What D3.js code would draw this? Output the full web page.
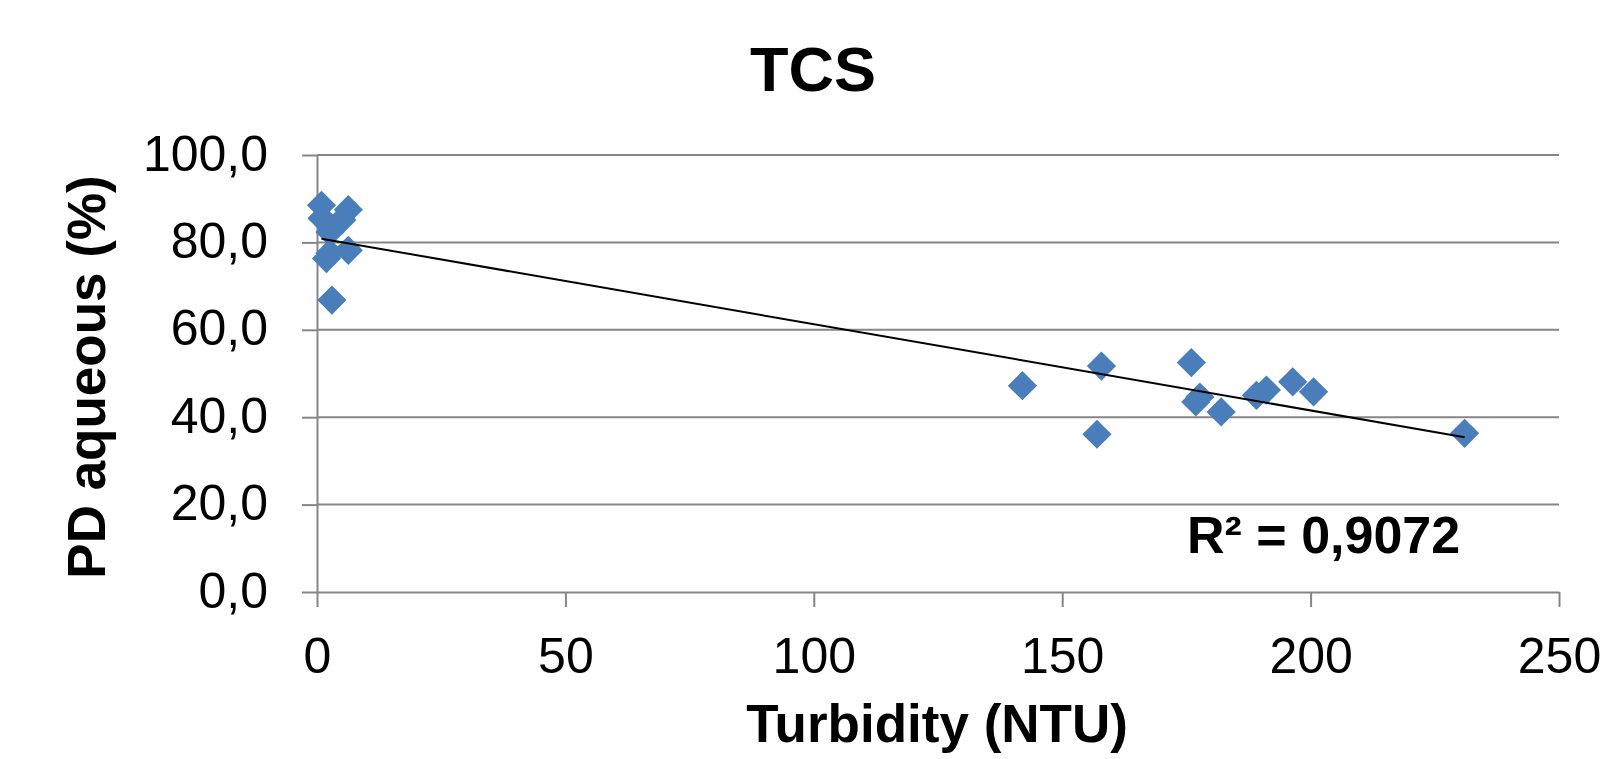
<!DOCTYPE html>
<html>
<head>
<meta charset="utf-8">
<script src="https://cdn.jsdelivr.net/npm/d3@7"></script>
<style>
  body { margin: 0; background: #fff; }
  svg { display: block; font-family: "Liberation Sans", Arial, sans-serif; }
</style>
</head>
<body>
<div id="app"></div>
<script>
// data
const turbidity = [0.9, 6.3, 1.0, 5.0, 2.6, 6.3, 2.6, 1.9, 3.0,
  142.0, 157.9, 157.0, 176.0, 177.7, 176.9, 182.0, 189.1, 191.1, 196.4, 200.6, 231.0];
const pdAqueous = [88.5, 87.5, 85.5, 85.1, 82.4, 78.2, 77.5, 76.3, 66.8,
  47.2, 51.7, 36.1, 52.5, 44.6, 43.5, 41.2, 45.0, 46.2, 48.1, 45.8, 36.3];
const xTicks = [0, 50, 100, 150, 200, 250];
const yTicks = [0, 20, 40, 60, 80, 100];
const rSquaredLabel = 'R² = 0,9072';

const width = 1601, height = 759;
const margin = { left: 317, right: 42, top: 155, bottom: 167 };

const svg = d3.select('#app').append('svg')
  .attr('width', width)
  .attr('height', height);

const x = d3.scaleLinear().domain([0, 250]).range([margin.left, width - margin.right]);
const y = d3.scaleLinear().domain([0, 100]).range([height - margin.bottom, margin.top]);

const gridColor = '#868686';
const fmt = d => d3.format('.1f')(d).replace('.', ',');

// horizontal gridlines
svg.append('g')
  .selectAll('line')
  .data(yTicks.filter(d => d > 0))
  .join('line')
  .attr('x1', x(0)).attr('x2', x(250))
  .attr('y1', d => y(d)).attr('y2', d => y(d))
  .attr('stroke', gridColor)
  .attr('stroke-width', 2);

// y axis
const yAxis = svg.append('g')
  .attr('transform', `translate(${x(0)},0)`)
  .call(d3.axisLeft(y).tickValues(yTicks).tickFormat(fmt).tickSize(15).tickSizeOuter(0).tickPadding(34));

// x axis
const xAxis = svg.append('g')
  .attr('transform', `translate(0,${y(0)})`)
  .call(d3.axisBottom(x).tickValues(xTicks).tickSize(15).tickSizeOuter(0).tickPadding(30));

[yAxis, xAxis].forEach(a => {
  a.select('.domain').attr('stroke', gridColor).attr('stroke-width', 2);
  a.selectAll('.tick line').attr('stroke', gridColor).attr('stroke-width', 2);
  a.selectAll('.tick text')
    .attr('fill', '#000')
    .attr('font-size', 50)
    .attr('font-family', '"Liberation Sans", Arial, sans-serif');
});
yAxis.selectAll('.tick text').attr('dy', '0.3em');
xAxis.selectAll('.tick text').attr('dy', '0.71em');

// points
const pts = turbidity.map((t, i) => ({ x: t, y: pdAqueous[i] }));
const diamond = d3.symbol().type(d3.symbolDiamond2).size(2 * 16.5 * 16.5);
svg.append('g')
  .selectAll('path')
  .data(pts)
  .join('path')
  .attr('d', diamond)
  .attr('transform', d => `translate(${x(d.x)},${y(d.y)})`)
  .attr('fill', '#4a7ebb');

// linear trendline (least squares)
const mx = d3.mean(pts, d => d.x), my = d3.mean(pts, d => d.y);
const slope = d3.sum(pts, d => (d.x - mx) * (d.y - my)) / d3.sum(pts, d => (d.x - mx) ** 2);
const intercept = my - slope * mx;
const [x0, x1] = d3.extent(pts, d => d.x);
svg.append('line')
  .attr('x1', x(x0)).attr('y1', y(intercept + slope * x0))
  .attr('x2', x(x1)).attr('y2', y(intercept + slope * x1))
  .attr('stroke', '#000')
  .attr('stroke-width', 2);

// R² label
svg.append('text')
  .attr('x', 1187).attr('y', 553)
  .attr('font-size', 52)
  .attr('font-weight', 'bold')
  .text(rSquaredLabel);

// title
svg.append('text')
  .attr('x', 813).attr('y', 91)
  .attr('text-anchor', 'middle')
  .attr('font-size', 63)
  .attr('font-weight', 'bold')
  .text('TCS');

// axis titles
svg.append('text')
  .attr('x', 937).attr('y', 742)
  .attr('text-anchor', 'middle')
  .attr('font-size', 53)
  .attr('font-weight', 'bold')
  .text('Turbidity (NTU)');

svg.append('text')
  .attr('transform', 'translate(105,377) rotate(-90)')
  .attr('text-anchor', 'middle')
  .attr('font-size', 53)
  .attr('font-weight', 'bold')
  .text('PD aqueous (%)');
</script>
</body>
</html>
